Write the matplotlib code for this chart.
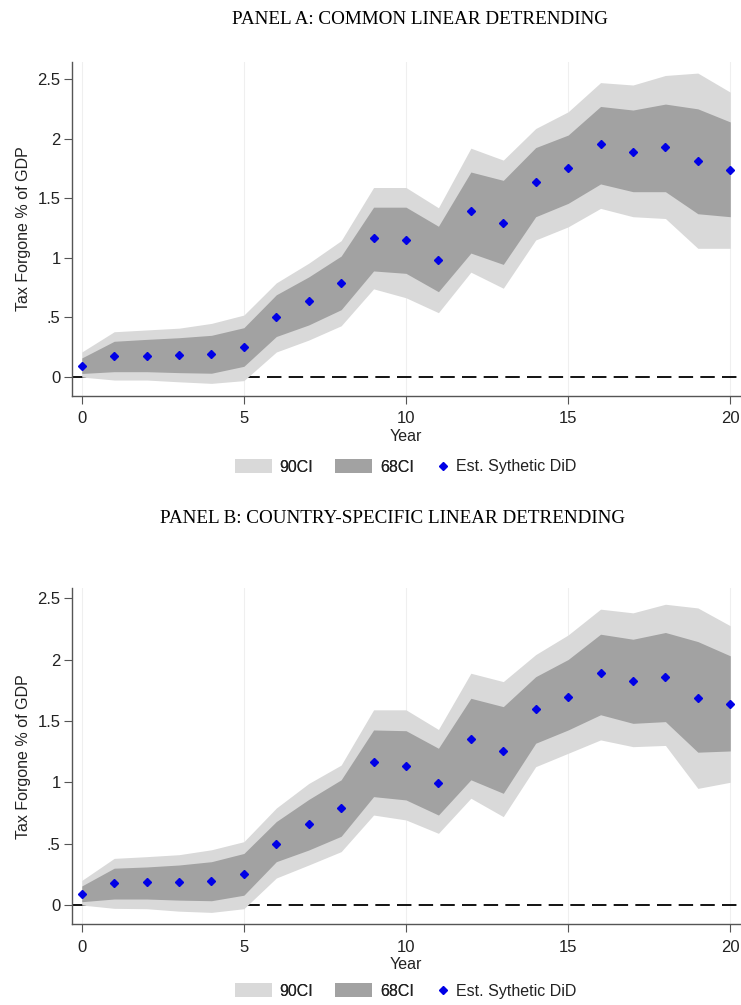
import matplotlib
matplotlib.use("Agg")
import matplotlib.pyplot as plt
from matplotlib.patches import Patch
from matplotlib.lines import Line2D

# ---- data -------------------------------------------------------------
years = list(range(21))

# Panel A: common linear detrending
est_a = [0.09, 0.18, 0.18, 0.185, 0.19, 0.25, 0.50, 0.635, 0.79, 1.165, 1.15,
         0.985, 1.39, 1.29, 1.635, 1.75, 1.955, 1.89, 1.93, 1.815, 1.735]
ci68_lo_a = [0.03, 0.045, 0.045, 0.037, 0.032, 0.09, 0.34, 0.437, 0.565, 0.89, 0.87,
             0.716, 1.04, 0.945, 1.345, 1.457, 1.62, 1.555, 1.555, 1.37, 1.345]
ci68_hi_a = [0.16, 0.30, 0.316, 0.33, 0.35, 0.414, 0.69, 0.84, 1.015, 1.425, 1.425,
             1.265, 1.72, 1.65, 1.925, 2.03, 2.27, 2.24, 2.29, 2.25, 2.14]
ci90_lo_a = [0.0, -0.025, -0.025, -0.04, -0.053, -0.03, 0.21, 0.31, 0.43, 0.74, 0.665,
             0.54, 0.88, 0.745, 1.15, 1.26, 1.415, 1.345, 1.33, 1.08, 1.08]
ci90_hi_a = [0.21, 0.38, 0.395, 0.41, 0.45, 0.52, 0.79, 0.955, 1.144, 1.59, 1.59,
             1.42, 1.92, 1.82, 2.085, 2.225, 2.47, 2.45, 2.53, 2.55, 2.39]

# Panel B: country-specific linear detrending
est_b = [0.09, 0.177, 0.186, 0.186, 0.193, 0.253, 0.50, 0.66, 0.788, 1.168, 1.133,
         0.99, 1.356, 1.255, 1.595, 1.698, 1.888, 1.826, 1.86, 1.687, 1.638]
ci68_lo_b = [0.027, 0.049, 0.049, 0.04, 0.035, 0.08, 0.353, 0.448, 0.56, 0.883, 0.856,
             0.733, 1.02, 0.91, 1.318, 1.426, 1.55, 1.48, 1.494, 1.245, 1.255]
ci68_hi_b = [0.155, 0.30, 0.31, 0.326, 0.353, 0.42, 0.68, 0.86, 1.02, 1.426, 1.42,
             1.277, 1.684, 1.616, 1.86, 2.0, 2.206, 2.165, 2.22, 2.146, 2.03]
ci90_lo_b = [0.0, -0.027, -0.03, -0.05, -0.06, -0.03, 0.22, 0.326, 0.435, 0.733, 0.693,
             0.584, 0.87, 0.72, 1.127, 1.236, 1.345, 1.29, 1.30, 0.95, 1.0]
ci90_hi_b = [0.2, 0.38, 0.394, 0.41, 0.45, 0.516, 0.79, 0.99, 1.14, 1.59, 1.59,
             1.43, 1.888, 1.82, 2.04, 2.2, 2.41, 2.38, 2.45, 2.42, 2.275]

x_ticks = [0, 5, 10, 15, 20]
y_ticks = [0, 0.5, 1, 1.5, 2, 2.5]
y_tick_labels = ["0", ".5", "1", "1.5", "2", "2.5"]

titles = ["PANEL A: COMMON LINEAR DETRENDING",
          "PANEL B: COUNTRY-SPECIFIC LINEAR DETRENDING"]
legend_labels = ["90CI", "68CI", "Est. Sythetic DiD"]

# ---- style ------------------------------------------------------------
LIGHT = "#d9d9d9"
DARK = "#a2a2a2"
BLUE = "#0000e6"
AXIS = "#555555"
TEXT = "#222222"
plt.rcParams["font.family"] = ["Liberation Sans", "DejaVu Sans"]

fig = plt.figure(figsize=(7.41, 10.05), dpi=100)
W, H = 741.0, 1005.0


def panel(rect_px, ylim, est, lo68, hi68, lo90, hi90, title, title_xy, legend_y):
    left, top, right, bottom = rect_px
    ax = fig.add_axes([left / W, 1 - bottom / H, (right - left) / W, (bottom - top) / H])
    ax.set_xlim(-0.31, 20.3)
    ax.set_ylim(*ylim)

    for xv in x_ticks:
        ax.axvline(xv, color="#efefef", lw=0.8, zorder=0)
    ax.axhline(0, color="black", lw=1.3, ls=(0, (8, 4)), zorder=1)

    ax.fill_between(years, lo90, hi90, color=LIGHT, lw=0, zorder=2)
    ax.fill_between(years, lo68, hi68, color=DARK, lw=0, zorder=3)
    ax.plot(years, est, ls="none", marker="D", ms=4.5, color=BLUE, mec=BLUE, zorder=4)

    for side in ("top", "right"):
        ax.spines[side].set_visible(False)
    for side in ("left", "bottom"):
        ax.spines[side].set_color(AXIS)
        ax.spines[side].set_linewidth(1.0)

    ax.set_xticks(x_ticks)
    ax.set_yticks(y_ticks)
    ax.set_yticklabels(y_tick_labels)
    ax.tick_params(axis="both", colors=AXIS, labelcolor=TEXT, labelsize=12,
                   length=6, width=0.8)
    ax.tick_params(axis="y", pad=2)
    ax.tick_params(axis="x", pad=5)
    ax.set_xlabel("Year", fontsize=11.5, color=TEXT, labelpad=2)
    ax.set_ylabel("Tax Forgone % of GDP", fontsize=11.5, color=TEXT, labelpad=5)

    fig.text(title_xy[0] / W, 1 - title_xy[1] / H, title, ha="center", va="center",
             fontsize=13.8, family=["Liberation Serif", "DejaVu Serif"], color="black")

    # legend: two shaded bands, then the point estimate marker
    band_handles = [Patch(facecolor=LIGHT, edgecolor="none"),
                    Patch(facecolor=DARK, edgecolor="none")]
    leg1 = fig.legend(band_handles, legend_labels[:2], loc="center left", ncol=2,
                      bbox_to_anchor=(235 / W, 1 - legend_y / H), frameon=False,
                      fontsize=11.5, handlelength=2.3, handleheight=1.0,
                      columnspacing=1.35, handletextpad=0.5, labelcolor=TEXT,
                      borderpad=0, borderaxespad=0)
    fig.add_artist(leg1)
    mark_handle = [Line2D([], [], ls="none", marker="D", ms=4, color=BLUE)]
    fig.legend(mark_handle, legend_labels[2:], loc="center left",
               bbox_to_anchor=(437 / W, 1 - legend_y / H), frameon=False,
               fontsize=11.5, handlelength=0.8, handletextpad=0.4,
               labelcolor=TEXT, borderpad=0, borderaxespad=0)
    return ax


panel((71.7, 62, 740, 396), (-0.159, 2.643), est_a, ci68_lo_a, ci68_hi_a,
      ci90_lo_a, ci90_hi_a, titles[0], (420, 20), 467)
panel((71.7, 588.3, 740, 924.3), (-0.157, 2.58), est_b, ci68_lo_b, ci68_hi_b,
      ci90_lo_b, ci90_hi_b, titles[1], (393, 518), 991)

fig.savefig("out.png", dpi=100)
